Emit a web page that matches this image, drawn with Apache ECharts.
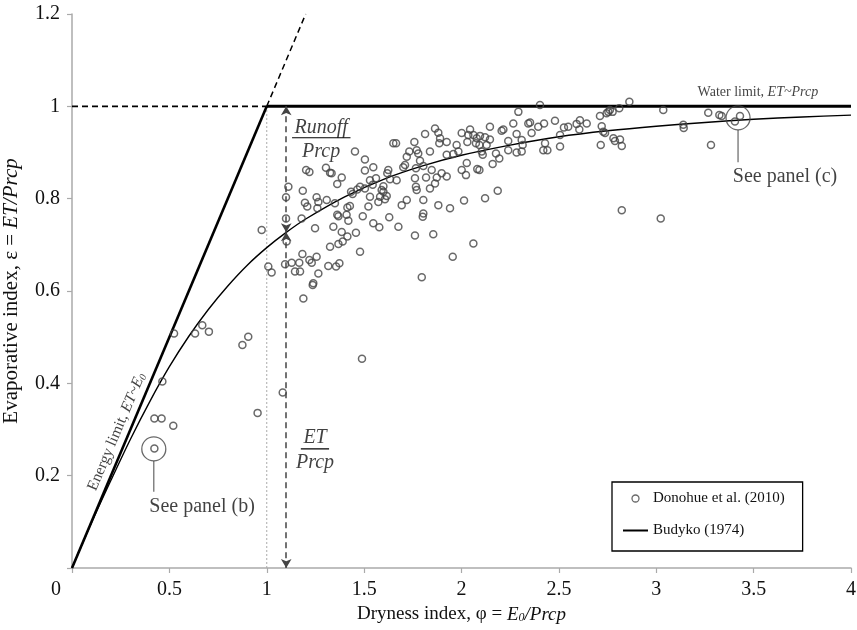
<!DOCTYPE html>
<html>
<head>
<meta charset="utf-8">
<script src="https://cdn.jsdelivr.net/npm/echarts/dist/echarts.min.js"></script>
<style>
    html, body { margin: 0; padding: 0; background: #fff; }
    #chart { width: 857px; height: 630px; }
</style>
</head>
<body>
<div id="chart"></div>
<script>
/* Budyko 图：蒸发指数 vs 干燥指数 */

var SERIF = 'Liberation Serif';

// Budyko (1974) curve
var budykoX = [0, 0.1, 0.2, 0.3, 0.4, 0.5, 0.6, 0.7, 0.8, 0.9, 1.0, 1.1, 1.2, 1.4, 1.6, 1.8, 2.0, 2.25, 2.5, 2.75, 3.0, 3.25, 3.5, 3.75, 4.0];
var budykoY = [0, 0.098, 0.19, 0.279, 0.361, 0.436, 0.502, 0.56, 0.611, 0.656, 0.694, 0.727, 0.756, 0.804, 0.842, 0.871, 0.894, 0.916, 0.934, 0.947, 0.957, 0.965, 0.972, 0.977, 0.981];

// limits
var energyLimit = [[0, 0], [1, 1]];
var energyExtension = [[1, 1], [1.2, 1.2]];
var unityLine = [[0, 1], [1, 1]];
var waterLimit = [[1, 1], [4, 1]];
var phiOne = [[1, 0], [1, 1]];

// Donohue et al. (2010) catchments
var donohuePoints = [
    [0.974,0.732],[1.111,0.826],[1.099,0.803],[1.099,0.757],[1.102,0.707],[1.094,0.658],[1.008,0.653],[1.025,0.640],
    [1.128,0.661],[1.145,0.642],[1.171,0.642],[1.167,0.661],[1.183,0.680],[1.219,0.667],[1.231,0.661],[1.256,0.674],
    [1.265,0.638],[1.239,0.617],[1.325,0.696],[1.316,0.654],[1.356,0.653],[1.373,0.660],[1.368,0.762],[1.342,0.739],
    [1.385,0.728],[1.390,0.707],[1.368,0.702],[1.414,0.718],[1.419,0.752],[1.410,0.765],[1.427,0.784],[1.414,0.781],
    [1.458,0.726],[1.479,0.685],[1.493,0.762],[1.522,0.783],[1.530,0.804],[1.504,0.822],[1.479,0.826],[1.465,0.820],
    [1.433,0.815],[1.441,0.810],[1.547,0.747],[1.578,0.738],[1.573,0.793],[1.582,0.804],[1.590,0.819],[1.599,0.827],
    [1.599,0.815],[1.616,0.806],[1.607,0.799],[1.544,0.830],[1.530,0.840],[1.561,0.844],[1.547,0.868],[1.504,0.861],
    [1.504,0.885],[1.453,0.902],[1.385,0.846],[1.362,0.832],[1.333,0.855],[1.304,0.867],[1.325,0.856],[1.202,0.862],
    [1.219,0.858],[1.185,0.817],[1.196,0.791],[1.208,0.783],[1.256,0.803],[1.265,0.793],[1.260,0.779],[1.308,0.797],
    [1.350,0.790],[1.362,0.765],[1.248,0.736],[1.179,0.757],[1.650,0.920],[1.664,0.920],[1.624,0.862],[1.619,0.855],
    [1.633,0.842],[1.667,0.840],[1.701,0.868],[1.710,0.873],[1.719,0.891],[1.732,0.902],[1.758,0.923],[1.770,0.905],
    [1.766,0.866],[1.778,0.898],[1.787,0.882],[1.804,0.871],[1.813,0.940],[1.847,0.862],[1.838,0.902],[1.864,0.952],
    [1.881,0.943],[1.890,0.931],[1.886,0.920],[1.898,0.855],[1.924,0.923],[1.924,0.848],[1.873,0.846],[1.818,0.846],
    [1.770,0.819],[1.761,0.844],[1.766,0.826],[1.804,0.797],[1.838,0.822],[1.864,0.833],[1.719,0.797],[1.693,0.786],
    [1.804,0.768],[1.801,0.761],[1.881,0.786],[1.761,0.720],[1.855,0.723],[1.941,0.779],[1.676,0.739],[1.796,0.630],
    [1.629,0.760],
    [1.955,0.674],[2.061,0.703],[2.013,0.796],[2.121,0.801],[2.186,0.817],[2.001,0.862],[2.023,0.851],[2.027,0.877],
    [2.081,0.864],[2.092,0.862],[2.160,0.875],[2.194,0.887],[2.177,0.898],[2.109,0.895],[2.104,0.902],[1.984,0.902],
    [1.958,0.897],[1.924,0.895],[1.975,0.916],[2.001,0.942],[2.044,0.950],[2.035,0.938],[2.030,0.923],[2.061,0.938],
    [2.078,0.931],[2.095,0.936],[2.121,0.933],[2.092,0.916],[2.074,0.920],[2.129,0.916],[2.146,0.928],[2.146,0.956],
    [2.206,0.947],[2.215,0.950],[2.240,0.925],[2.266,0.963],[2.283,0.940],[2.292,0.988],[2.309,0.927],[2.314,0.916],
    [2.309,0.902],[2.283,0.900],[2.240,0.905],[2.343,0.963],[2.352,0.965],[2.360,0.942],[2.394,0.956],[2.403,1.003],
    [2.424,0.963],[2.420,0.905],[2.441,0.905],[2.429,0.920],[2.480,0.969],[2.506,0.938],[2.506,0.913],[2.526,0.954],
    [2.548,0.956],[2.591,0.962],[2.608,0.970],[2.605,0.950],[2.643,0.963],[2.711,0.979],[2.720,0.957],[2.715,0.916],
    [2.737,0.942],[2.754,0.988],[2.776,0.988],[2.780,0.931],[2.788,0.925],[2.810,0.996],[2.814,0.928],[2.823,0.914],
    [2.823,0.775],[2.862,1.010],
    [3.036,0.992],[3.139,0.960],[3.141,0.953],[3.267,0.986],[3.324,0.981],[3.336,0.979],[3.281,0.916],[3.023,0.757],
    [3.430,0.979],[3.404,0.967],[2.762,0.992],[2.745,0.985],[2.728,0.945],
    [0.524,0.508],[0.632,0.508],[0.669,0.526],[0.703,0.512],[0.875,0.483],[0.905,0.501],[0.464,0.404],[0.423,0.324],
    [0.460,0.324],[0.520,0.308],[0.423,0.259],[0.953,0.336],[1.082,0.380],[1.236,0.613],[1.188,0.584],[1.489,0.453]
];

// highlighted catchments (panels b and c)
var panelPoints = [[0.42, 0.258], [3.42, 0.975]];

// arrow position and the curve value it meets
var arrowX = 1.1;
var arrowMid = 0.727;

var chart = echarts.init(document.getElementById('chart'));

function seg(data, width, type, color) {
    return {
        type: 'line',
        data: data,
        showSymbol: false,
        symbol: 'none',
        silent: true,
        animation: false,
        lineStyle: { color: color || '#000', width: width, type: type || 'solid' },
        z: 2
    };
}

function note(x, y, text, size, extra) {
    var label = {
        show: true,
        position: 'inside',
        formatter: text,
        color: '#111',
        fontFamily: SERIF,
        fontSize: size,
        rich: {
            i: { fontFamily: SERIF, fontStyle: 'italic', fontSize: size, color: '#111' },
            s: { fontFamily: SERIF, fontStyle: 'italic', fontSize: Math.round(size * 0.65), color: '#111', verticalAlign: 'bottom', lineHeight: 12 }
        }
    };
    if (extra) {
        for (var k in extra) label[k] = extra[k];
    }
    return { value: [x, y], label: label };
}

var budykoData = [];
for (var i = 0; i < budykoX.length; i++) {
    budykoData.push([budykoX[i], budykoY[i]]);
}

var series = [
    seg(phiOne, 1, [2, 2], '#aaa'),
    seg(unityLine, 1.8, [6, 4]),
    seg(energyExtension, 1.5, [6, 4]),
    seg(energyLimit, 2.6),
    seg(waterLimit, 3),
    {
        name: 'Budyko (1974)',
        type: 'line',
        data: budykoData,
        smooth: 0.3,
        symbol: 'none',
        showSymbol: false,
        silent: true,
        animation: false,
        lineStyle: { color: '#000', width: 1.4 },
        itemStyle: { color: '#000' },
        z: 3,
        markLine: {
            silent: true,
            animation: false,
            symbol: ['arrow', 'arrow'],
            symbolSize: [8, 9],
            label: { show: false },
            lineStyle: { color: '#444', width: 1.5, type: [6, 4] },
            data: [
                [{ coord: [arrowX, 1] }, { coord: [arrowX, arrowMid] }],
                [{ coord: [arrowX, arrowMid] }, { coord: [arrowX, 0] }]
            ]
        }
    },
    // underlines of the fractions
    seg([[1.13, 0.932], [1.43, 0.932]], 1.2),
    seg([[1.175, 0.258], [1.32, 0.258]], 1.2),
    // leader lines
    seg([[0.42, 0.232], [0.42, 0.165]], 1.2, 'solid', '#666'),
    seg([[3.42, 0.949], [3.42, 0.879]], 1.2, 'solid', '#666'),
    {
        name: 'Donohue et al. (2010)',
        type: 'scatter',
        data: donohuePoints,
        symbol: 'circle',
        symbolSize: 7,
        silent: true,
        animation: false,
        itemStyle: { color: 'rgba(255,255,255,0)', borderColor: '#444', borderWidth: 1.5 },
        z: 4
    },
    {
        type: 'scatter',
        data: panelPoints,
        symbol: 'circle',
        symbolSize: 24,
        silent: true,
        animation: false,
        itemStyle: { color: 'rgba(255,255,255,0)', borderColor: '#444', borderWidth: 1.3 },
        z: 4
    },
    {
        type: 'scatter',
        symbolSize: 0,
        silent: true,
        animation: false,
        z: 5,
        data: [
            note(1.279, 0.953, '{i|Runoff}', 20),
            note(1.279, 0.901, '{i|Prcp}', 20),
            note(1.248, 0.282, '{i|ET}', 20),
            note(1.248, 0.227, '{i|Prcp}', 20),
            note(0.668, 0.132, 'See panel (b)', 20),
            note(3.661, 0.847, 'See panel (c)', 20),
            note(3.522, 1.031, 'Water limit, {i|ET~Prcp}', 14),
            note(0.23, 0.295, 'Energy limit, {i|ET~E}{s|0}', 15.5, { rotate: 67 })
        ]
    }
];

var option = {
    backgroundColor: '#fff',
    animation: false,
    grid: { left: 72, right: 6, top: 14, bottom: 62, containLabel: false, outerBoundsMode: 'none' },
    legend: {
        data: [
            { name: 'Donohue et al. (2010)', itemStyle: { borderWidth: 1.3 } },
            { name: 'Budyko (1974)', itemStyle: { opacity: 0 } }
        ],
        orient: 'vertical',
        left: 612,
        top: 482,
        padding: [9, 18, 13, 10],
        itemGap: 17,
        itemWidth: 25,
        itemHeight: 7,
        borderColor: '#000',
        borderWidth: 1.3,
        borderRadius: 0,
        backgroundColor: '#fff',
        selectedMode: false,
        textStyle: { fontFamily: SERIF, fontSize: 15, color: '#111' }
    },
    xAxis: {
        type: 'value',
        min: 0,
        max: 4,
        interval: 0.5,
        name: 'Dryness index, φ = {i|E}{s|0}{i|/Prcp}',
        nameLocation: 'middle',
        nameGap: 37,
        nameTextStyle: {
            fontFamily: SERIF, fontSize: 19, color: '#111',
            rich: {
                i: { fontFamily: SERIF, fontStyle: 'italic', fontSize: 19, color: '#111' },
                s: { fontFamily: SERIF, fontStyle: 'italic', fontSize: 12, color: '#111', verticalAlign: 'bottom', lineHeight: 14 }
            }
        },
        axisLine: { lineStyle: { color: '#aaa', width: 1.5 } },
        axisTick: { show: true, length: 5, lineStyle: { color: '#aaa', width: 1.2 } },
        splitLine: { show: false },
        axisLabel: {
            fontFamily: SERIF, fontSize: 20, color: '#111', margin: 12,
            formatter: function (v) { return v === 0 ? '{z|0}' : String(v); },
            rich: { z: { fontFamily: SERIF, fontSize: 20, color: '#111', padding: [0, 32, 0, 0] } }
        }
    },
    yAxis: {
        type: 'value',
        min: 0,
        max: 1.2,
        interval: 0.2,
        name: 'Evaporative index, ε = {i|ET/Prcp}',
        nameLocation: 'middle',
        nameGap: 50,
        nameTextStyle: {
            fontFamily: SERIF, fontSize: 21, color: '#111',
            rich: { i: { fontFamily: SERIF, fontStyle: 'italic', fontSize: 21, color: '#111' } }
        },
        axisLine: { show: true, lineStyle: { color: '#aaa', width: 1.5 } },
        axisTick: { show: true, length: 5, lineStyle: { color: '#aaa', width: 1.2 } },
        splitLine: { show: false },
        axisLabel: {
            fontFamily: SERIF, fontSize: 20, color: '#111', margin: 12,
            formatter: function (v) { return v === 0 ? '' : String(Math.round(v * 10) / 10); }
        }
    },
    series: series
};

chart.setOption(option);
</script>
</body>
</html>
